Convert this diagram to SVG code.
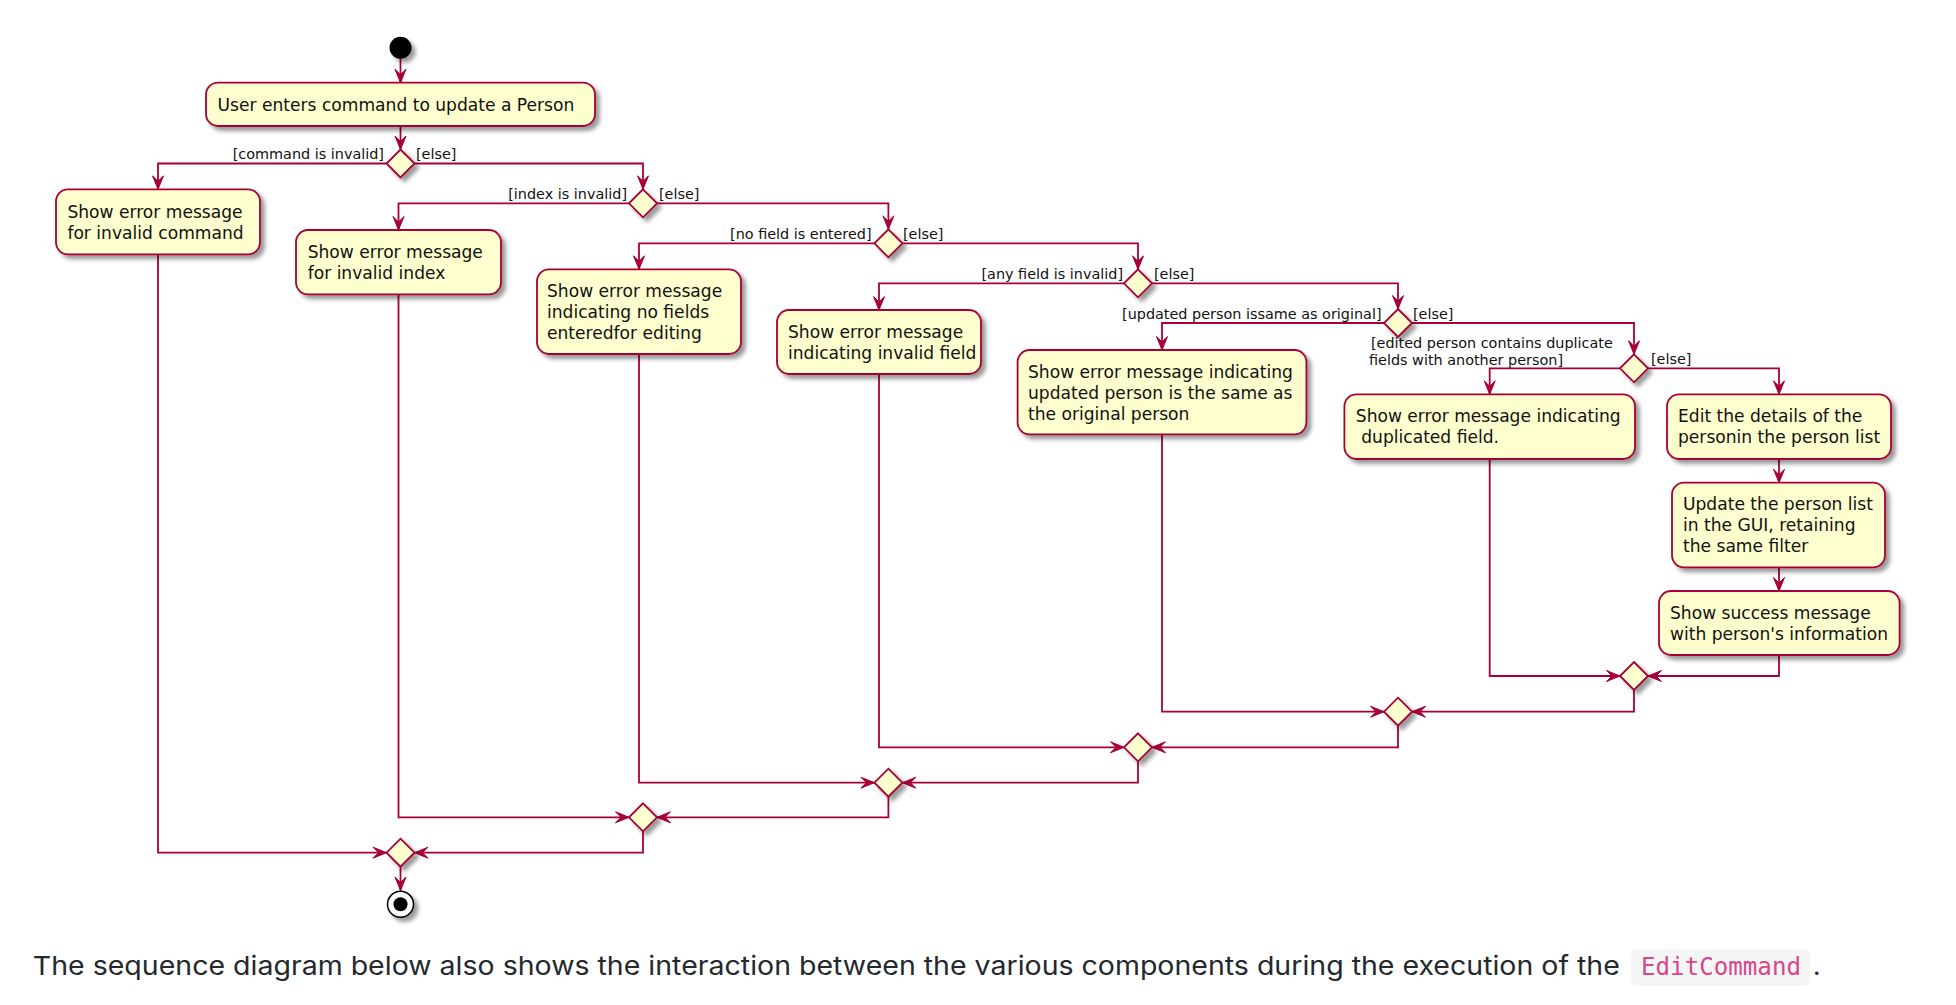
<svg xmlns="http://www.w3.org/2000/svg" width="1956" height="1005" viewBox="0 0 1956 1005">
<style>
.box{fill:#FEFECE;stroke:#A80036;stroke-width:1.8}
.dia{fill:#FEFECE;stroke:#A80036;stroke-width:1.8}
.ln{fill:none;stroke:#A80036;stroke-width:1.8}
.t{font-family:"DejaVu Sans",sans-serif;font-size:17.1px;fill:#111}
.g{font-family:"DejaVu Sans",sans-serif;font-size:14.4px;fill:#111}
.r{text-anchor:end}
</style>
<defs>
<filter id="sh" x="-20%" y="-20%" width="150%" height="150%">
<feGaussianBlur in="SourceAlpha" stdDeviation="2"/>
<feOffset dx="4" dy="4" result="b"/>
<feComponentTransfer><feFuncA type="linear" slope="0.4"/></feComponentTransfer>
<feMerge><feMergeNode/><feMergeNode in="SourceGraphic"/></feMerge>
</filter>
<marker id="ah" viewBox="-15 -7 16 14" refX="0" refY="0" markerWidth="16" markerHeight="14" markerUnits="userSpaceOnUse" orient="auto">
<path d="M0,0 L-13.5,-5.5 L-8,0 L-13.5,5.5 Z" fill="#A80036" stroke="#A80036" stroke-width="1"/>
</marker>
</defs>
<rect width="1956" height="1005" fill="#fff"/>

<g id="connectors">
<path class="ln" d="M400.5,58.7 V82.7" marker-end="url(#ah)"/>
<path class="ln" d="M400.5,126 V149.5" marker-end="url(#ah)"/>
<path class="ln" d="M386.5,163.5 H158 V189.3" marker-end="url(#ah)"/>
<path class="ln" d="M414.5,163.5 H643 V189.3" marker-end="url(#ah)"/>
<path class="ln" d="M629,203.3 H398.5 V230" marker-end="url(#ah)"/>
<path class="ln" d="M657,203.3 H888.4 V229.3" marker-end="url(#ah)"/>
<path class="ln" d="M874.4,243.3 H639 V269.3" marker-end="url(#ah)"/>
<path class="ln" d="M902.4,243.3 H1138 V269.3" marker-end="url(#ah)"/>
<path class="ln" d="M1124,283.3 H879 V310" marker-end="url(#ah)"/>
<path class="ln" d="M1152,283.3 H1398 V309" marker-end="url(#ah)"/>
<path class="ln" d="M1384,323 H1162 V350" marker-end="url(#ah)"/>
<path class="ln" d="M1412,323 H1634 V354.3" marker-end="url(#ah)"/>
<path class="ln" d="M1620,368.3 H1489.7 V394.3" marker-end="url(#ah)"/>
<path class="ln" d="M1648,368.3 H1779 V394.3" marker-end="url(#ah)"/>
<path class="ln" d="M1779,459 V482.7" marker-end="url(#ah)"/>
<path class="ln" d="M1779,567.3 V591" marker-end="url(#ah)"/>
<path class="ln" d="M1489.7,459 V676 H1620" marker-end="url(#ah)"/>
<path class="ln" d="M1779,655 V676 H1648" marker-end="url(#ah)"/>
<path class="ln" d="M1634,690 V711.7 H1412" marker-end="url(#ah)"/>
<path class="ln" d="M1162,434.3 V711.7 H1384" marker-end="url(#ah)"/>
<path class="ln" d="M1398,725.7 V747.3 H1152" marker-end="url(#ah)"/>
<path class="ln" d="M879,374 V747.3 H1124" marker-end="url(#ah)"/>
<path class="ln" d="M1138,761.3 V782.7 H902.4" marker-end="url(#ah)"/>
<path class="ln" d="M639,354 V782.7 H874.4" marker-end="url(#ah)"/>
<path class="ln" d="M888.4,796.7 V817.3 H657" marker-end="url(#ah)"/>
<path class="ln" d="M398.5,294.3 V817.3 H629" marker-end="url(#ah)"/>
<path class="ln" d="M643,831.3 V852.7 H414.5" marker-end="url(#ah)"/>
<path class="ln" d="M158,254.3 V852.7 H386.5" marker-end="url(#ah)"/>
<path class="ln" d="M400.5,866.7 V890.5" marker-end="url(#ah)"/>
<text class="g r" x="384" y="158.5">[command is invalid]</text>
<text class="g" x="416" y="158.5">[else]</text>
<text class="g r" x="627" y="198.5">[index is invalid]</text>
<text class="g" x="659" y="198.5">[else]</text>
<text class="g r" x="871.5" y="238.5">[no field is entered]</text>
<text class="g" x="903" y="238.5">[else]</text>
<text class="g r" x="1123" y="278.5">[any field is invalid]</text>
<text class="g" x="1154" y="278.5">[else]</text>
<text class="g r" x="1381.5" y="318.5">[updated person issame as original]</text>
<text class="g" x="1413" y="318.5">[else]</text>
<text class="g" x="1371" y="348">[edited person contains duplicate</text>
<text class="g" x="1369" y="364.5">fields with another person]</text>
<text class="g" x="1651" y="364">[else]</text>
</g>

<g id="start"><circle cx="400.5" cy="47.7" r="11" fill="#000" filter="url(#sh)"/></g>

<g id="n_enter"><rect class="box" x="206" y="82.7" width="389" height="43.3" rx="12" filter="url(#sh)"/>
<text class="t" x="217.6" y="110.7">User enters command to update a Person</text></g>

<g id="d1"><path class="dia" d="M400.5,149.5 L414.5,163.5 L400.5,177.5 L386.5,163.5 Z" filter="url(#sh)"/></g>

<g id="n_cmd"><rect class="box" x="56" y="189.3" width="204" height="65" rx="12" filter="url(#sh)"/>
<text class="t" x="67.4" y="217.5">Show error message</text>
<text class="t" x="67.4" y="238.5">for invalid command</text></g>

<g id="d2"><path class="dia" d="M643,189.3 L657,203.3 L643,217.3 L629,203.3 Z" filter="url(#sh)"/></g>

<g id="n_index"><rect class="box" x="296" y="230" width="205" height="64.3" rx="12" filter="url(#sh)"/>
<text class="t" x="307.7" y="258">Show error message</text>
<text class="t" x="307.7" y="279">for invalid index</text></g>

<g id="d3"><path class="dia" d="M888.4,229.3 L902.4,243.3 L888.4,257.3 L874.4,243.3 Z" filter="url(#sh)"/></g>

<g id="n_nofield"><rect class="box" x="537" y="269.3" width="204" height="84.7" rx="12" filter="url(#sh)"/>
<text class="t" x="547" y="297">Show error message</text>
<text class="t" x="547" y="318">indicating no fields</text>
<text class="t" x="547" y="339">enteredfor editing</text></g>

<g id="d4"><path class="dia" d="M1138,269.3 L1152,283.3 L1138,297.3 L1124,283.3 Z" filter="url(#sh)"/></g>

<g id="n_invalidfield"><rect class="box" x="777" y="310" width="204" height="64" rx="12" filter="url(#sh)"/>
<text class="t" x="788" y="337.5">Show error message</text>
<text class="t" x="788" y="358.5">indicating invalid field</text></g>

<g id="d5"><path class="dia" d="M1398,309 L1412,323 L1398,337 L1384,323 Z" filter="url(#sh)"/></g>

<g id="n_same"><rect class="box" x="1017.6" y="350" width="288.8" height="84.3" rx="12" filter="url(#sh)"/>
<text class="t" x="1028" y="377.5">Show error message indicating</text>
<text class="t" x="1028" y="398.5">updated person is the same as</text>
<text class="t" x="1028" y="419.5">the original person</text></g>

<g id="d6"><path class="dia" d="M1634,354.3 L1648,368.3 L1634,382.3 L1620,368.3 Z" filter="url(#sh)"/></g>

<g id="n_dup"><rect class="box" x="1344.4" y="394.3" width="290.6" height="64.7" rx="12" filter="url(#sh)"/>
<text class="t" x="1355.8" y="421.7">Show error message indicating</text>
<text class="t" x="1355.8" y="442.7" xml:space="preserve"> duplicated field.</text></g>

<g id="n_edit"><rect class="box" x="1667" y="394.3" width="224" height="64.7" rx="12" filter="url(#sh)"/>
<text class="t" x="1678" y="421.7">Edit the details of the</text>
<text class="t" x="1678" y="442.7">personin the person list</text></g>

<g id="n_update"><rect class="box" x="1672" y="482.7" width="213" height="84.6" rx="12" filter="url(#sh)"/>
<text class="t" x="1683" y="510">Update the person list</text>
<text class="t" x="1683" y="531">in the GUI, retaining</text>
<text class="t" x="1683" y="552">the same filter</text></g>

<g id="n_success"><rect class="box" x="1659" y="591" width="240.6" height="64" rx="12" filter="url(#sh)"/>
<text class="t" x="1670" y="619.3">Show success message</text>
<text class="t" x="1670" y="640.3">with person's information</text></g>

<g id="m6"><path class="dia" d="M1634,662 L1648,676 L1634,690 L1620,676 Z" filter="url(#sh)"/></g>
<g id="m5"><path class="dia" d="M1398,697.7 L1412,711.7 L1398,725.7 L1384,711.7 Z" filter="url(#sh)"/></g>
<g id="m4"><path class="dia" d="M1138,733.3 L1152,747.3 L1138,761.3 L1124,747.3 Z" filter="url(#sh)"/></g>
<g id="m3"><path class="dia" d="M888.4,768.7 L902.4,782.7 L888.4,796.7 L874.4,782.7 Z" filter="url(#sh)"/></g>
<g id="m2"><path class="dia" d="M643,803.3 L657,817.3 L643,831.3 L629,817.3 Z" filter="url(#sh)"/></g>
<g id="m1"><path class="dia" d="M400.5,838.7 L414.5,852.7 L400.5,866.7 L386.5,852.7 Z" filter="url(#sh)"/></g>

<g id="end"><circle cx="400.5" cy="904.3" r="13" fill="#fff" stroke="#000" stroke-width="1.5" filter="url(#sh)"/>
<circle cx="400.5" cy="904.3" r="7" fill="#000"/></g>

<g id="caption">
<text x="32.8" y="975" font-family="Inter, 'Liberation Sans', sans-serif" font-size="26" fill="#24292e" textLength="1587" lengthAdjust="spacingAndGlyphs">The sequence diagram below also shows the interaction between the various components during the execution of the</text>
<rect x="1631" y="949" width="179" height="37" rx="6" fill="#f4f6f6"/>
<text x="1641" y="975" font-family="'DejaVu Sans Mono', monospace" font-size="24" fill="#d9468a" textLength="160" lengthAdjust="spacingAndGlyphs">EditCommand</text>
<text x="1813" y="975" font-family="Inter, 'Liberation Sans', sans-serif" font-size="26" fill="#24292e">.</text>
</g>
</svg>
